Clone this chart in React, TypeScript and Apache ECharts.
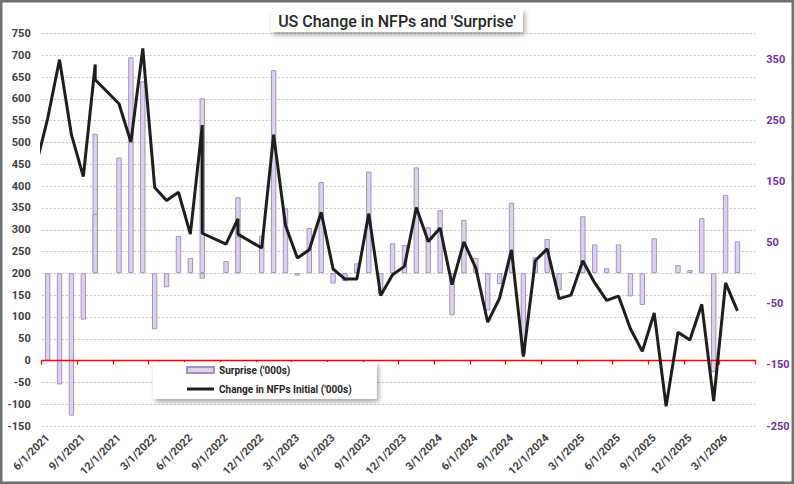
import React, { useEffect, useRef } from "react";
import * as echarts from "echarts";

// Month slots shown on the date axis (one per month)
const axisMonths = [
  "6/1/2021", "7/1/2021", "8/1/2021", "9/1/2021", "10/1/2021", "11/1/2021", "12/1/2021",
  "1/1/2022", "2/1/2022", "3/1/2022", "4/1/2022", "5/1/2022", "6/1/2022", "7/1/2022", "8/1/2022", "9/1/2022", "10/1/2022", "11/1/2022", "12/1/2022",
  "1/1/2023", "2/1/2023", "3/1/2023", "4/1/2023", "5/1/2023", "6/1/2023", "7/1/2023", "8/1/2023", "9/1/2023", "10/1/2023", "11/1/2023", "12/1/2023",
  "1/1/2024", "2/1/2024", "3/1/2024", "4/1/2024", "5/1/2024", "6/1/2024", "7/1/2024", "8/1/2024", "9/1/2024", "10/1/2024", "11/1/2024", "12/1/2024",
  "1/1/2025", "2/1/2025", "3/1/2025", "4/1/2025", "5/1/2025", "6/1/2025", "7/1/2025", "8/1/2025", "9/1/2025", "10/1/2025", "11/1/2025", "12/1/2025",
  "1/1/2026", "2/1/2026", "3/1/2026", "4/1/2026", "5/1/2026",
];

// Data rows (dates as in the source sheet; some dates repeat, some months are absent)
const entryDates = [
  "5/1/2021", "6/1/2021", "7/1/2021", "8/1/2021", "9/1/2021", "10/1/2021", "10/1/2021",
  "12/1/2021", "1/1/2022", "2/1/2022", "3/1/2022", "4/1/2022", "5/1/2022", "6/1/2022",
  "7/1/2022", "7/1/2022", "9/1/2022", "10/1/2022", "10/1/2022", "12/1/2022",
  "1/1/2023", "2/1/2023", "3/1/2023", "4/1/2023", "5/1/2023", "6/1/2023", "7/1/2023",
  "8/1/2023", "9/1/2023", "10/1/2023", "11/1/2023", "12/1/2023",
  "1/1/2024", "2/1/2024", "3/1/2024", "4/1/2024", "5/1/2024", "6/1/2024", "7/1/2024",
  "8/1/2024", "9/1/2024", "10/1/2024", "11/1/2024", "12/1/2024",
  "1/1/2025", "2/1/2025", "3/1/2025", "4/1/2025", "5/1/2025", "6/1/2025", "7/1/2025",
  "8/1/2025", "9/1/2025", "10/1/2025", "11/1/2025", "12/1/2025",
  "1/1/2026", "2/1/2026", "3/1/2026", "4/1/2026",
];

const nfpInitial = [
  445, 555, 690, 518, 422, 679, 644,
  589, 501, 716, 397, 367, 386, 290,
  540, 292, 267, 325, 290, 258,
  518, 310, 235, 254, 340, 210, 187,
  187, 337, 149, 197, 216,
  351, 273, 304, 174, 272, 212, 88,
  143, 254, 9, 229, 256,
  142, 150, 229, 178, 138, 148, 73,
  21, 109, -105, 65, 47,
  129, -93, 178, 114,
];

const surprise = [
  null, -143, -182, -233, -76, 228, 97,
  189, 353, 314, -92, -23, 61, 25,
  286, -9, 20, 124, 60, 61,
  332, 106, -4, 74, 149, -17, -13,
  16, 166, -35, 49, 46,
  173, 75, 103, -69, 87, 25, -61,
  -18, 115, -133, 26, 56,
  -28, 2, 93, 47, 8, 47, -38,
  -52, 57, null, 13, 5,
  90, -162, 128, 52,
];

const leftTicks = { min: -150, max: 750, step: 50 };
const rightTicks = { min: -250, max: 392, step: 100 };

const monthIndex = (d: string) => {
  const [m, , y] = d.split("/").map(Number);
  return (y - 2021) * 12 + (m - 6);
};

const lineData = entryDates.map((d, i) => [monthIndex(d), nfpInitial[i]]);
const barData = entryDates
  .map((d, i) => (surprise[i] === null ? null : [monthIndex(d), surprise[i]]))
  .filter((p) => p !== null);

const FONT = "Roboto";

export default function App() {
  const ref = useRef<HTMLDivElement>(null);

  useEffect(() => {
    if (!ref.current) return;
    const chart = echarts.init(ref.current, undefined, { renderer: "svg" });
    const option: any = {
      animation: false,
      backgroundColor: "#ffffff",
      textStyle: { fontFamily: FONT },
      title: {
        text: "US Change in NFPs and 'Surprise'",
        left: "center",
        top: 9,
        padding: [4, 7, 3, 7],
        backgroundColor: "#ffffff",
        shadowBlur: 5,
        shadowColor: "rgba(0,0,0,0.35)",
        shadowOffsetX: 2,
        shadowOffsetY: 3,
        textStyle: { fontSize: 16, fontWeight: 500, color: "#262626", fontFamily: FONT },
      },
      legend: {
        orient: "vertical",
        left: 153,
        top: 362,
        padding: [2, 25, 4, 33],
        itemGap: 7,
        itemWidth: 27,
        itemHeight: 6,
        backgroundColor: "#ffffff",
        shadowBlur: 5,
        shadowColor: "rgba(0,0,0,0.35)",
        shadowOffsetX: 2,
        shadowOffsetY: 3,
        textStyle: { fontSize: 10, color: "#262626", fontWeight: "bold", lineHeight: 12, fontFamily: FONT },
        data: [
          { name: "Surprise ('000s)", icon: "rect" },
          {
            name: "Change in NFPs Initial ('000s)",
            icon: "path://M0,0h27v3h-27z",
            itemStyle: { color: "#1e1e1e", borderWidth: 0 },
          },
        ],
      },
      grid: { left: 41.7, top: 33.5, width: 713.6, height: 392.5, containLabel: false },
      xAxis: [
        {
          type: "category",
          data: axisMonths,
          position: "bottom",
          boundaryGap: true,
          z: 3,
          axisLine: { show: true, onZero: true, onZeroAxisIndex: 0, lineStyle: { color: "#ff0000", width: 1.3 } },
          axisTick: { show: true, interval: 2, length: 4, lineStyle: { color: "#ff0000", width: 1.3 } },
          axisLabel: { show: false },
          splitLine: { show: false },
        },
        {
          type: "category",
          data: axisMonths,
          position: "bottom",
          boundaryGap: true,
          axisLine: { show: false, onZero: false },
          axisTick: { show: false },
          splitLine: { show: false },
          axisLabel: { interval: 2, rotate: 45, margin: 10, color: "#404040", fontSize: 11, fontWeight: "bold", fontFamily: FONT },
        },
        {
          type: "value",
          min: -0.5,
          max: 59.5,
          show: false,
          axisLine: { onZero: false },
          splitLine: { show: false },
        },
      ],
      yAxis: [
        {
          type: "value",
          min: leftTicks.min,
          max: leftTicks.max,
          interval: leftTicks.step,
          position: "left",
          axisLine: { show: false },
          axisTick: { show: false },
          axisLabel: { color: "#404040", fontSize: 11, fontWeight: "bold", margin: 11, fontFamily: FONT },
          splitLine: { show: true, lineStyle: { color: "#c4c4c4", type: [2, 2], width: 1 } },
        },
        {
          type: "value",
          min: rightTicks.min,
          max: rightTicks.max,
          interval: rightTicks.step,
          position: "right",
          axisLine: { show: false },
          axisTick: { show: false },
          splitLine: { show: false },
          axisLabel: { color: "#7030a0", fontSize: 11, fontWeight: "bold", margin: 11, showMaxLabel: false, fontFamily: FONT },
        },
      ],
      series: [
        {
          name: "Surprise ('000s)",
          type: "bar",
          xAxisIndex: 2,
          yAxisIndex: 1,
          data: barData,
          barWidth: 5.4,
          z: 2,
          itemStyle: { color: "#dcd3e8", borderColor: "#a490c4", borderWidth: 1 },
        },
        {
          name: "Change in NFPs Initial ('000s)",
          type: "line",
          xAxisIndex: 2,
          yAxisIndex: 0,
          data: lineData,
          symbol: "none",
          clip: true,
          z: 5,
          lineStyle: { color: "#1e1e1e", width: 3 },
          itemStyle: { color: "#1e1e1e" },
        },
      ],
      graphic: [
        {
          type: "rect",
          silent: true,
          z: 100,
          shape: { x: 1.25, y: 1.25, width: 791.5, height: 481.5 },
          style: { fill: "none", stroke: "#707070", lineWidth: 2.5 },
        },
      ],
    };
    chart.setOption(option);
    return () => chart.dispose();
  }, []);

  return <div ref={ref} style={{ position: "fixed", left: 0, top: 0, width: 794, height: 484 }} />;
}
